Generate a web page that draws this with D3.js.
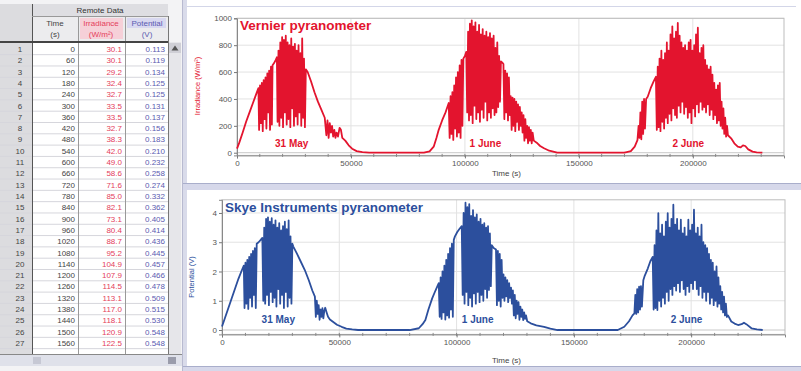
<!DOCTYPE html>
<html>
<head>
<meta charset="utf-8">
<script src="https://cdn.jsdelivr.net/npm/d3@7"></script>
<style>
  html, body { margin: 0; padding: 0; background: #fff; }
  svg { display: block; font-family: 'Liberation Sans', Arial, sans-serif; }
</style>
</head>
<body>
<svg id="chart" width="801" height="371"></svg>
<script>
// ---- table (Remote Data) ----
const tableTime = [0, 60, 120, 180, 240, 300, 360, 420, 480, 540, 600, 660, 720, 780, 840, 900, 960, 1020, 1080, 1140, 1200, 1260, 1320, 1380, 1440, 1500, 1560];
const tableIrradiance = [30.1, 30.1, 29.2, 32.4, 32.7, 33.5, 33.5, 32.7, 38.3, 42.0, 49.0, 58.6, 71.6, 85.0, 82.1, 73.1, 80.4, 88.7, 95.2, 104.9, 107.9, 114.5, 113.1, 117.0, 118.1, 120.9, 122.5];
const tablePotential = [0.113, 0.119, 0.134, 0.125, 0.125, 0.131, 0.137, 0.156, 0.183, 0.210, 0.232, 0.258, 0.274, 0.332, 0.362, 0.405, 0.414, 0.436, 0.445, 0.457, 0.466, 0.478, 0.509, 0.515, 0.530, 0.548, 0.548];

// ---- axes ----
const timeTicks = [0, 50000, 100000, 150000, 200000];
const irradianceTicks = [0, 200, 400, 600, 800, 1000];
const potentialTicks = [0, 1, 2, 3, 4];
const dayLabels = ['31 May', '1 June', '2 June'];
const dayLabelTimes = [24000, 109000, 198000];

// ---- Vernier pyranometer, irradiance (W/m²) vs time (s) ----
const vernier31May = [
  [0, 30], [1000, 75], [2500, 150], [4000, 230], [5500, 300], [7000, 370], [8500, 440], [9400, 480],
  [9700, 170], [10100, 500], [10500, 220], [10900, 520], [11300, 160], [11700, 540], [12100, 250], [12500, 560],
  [12900, 180], [13300, 590], [13700, 300], [14100, 610], [14500, 170], [14900, 640], [15300, 210], [15600, 650],
  [16200, 665], [17000, 690], [17500, 710],
  [17800, 230], [18200, 760], [18600, 200], [19000, 820], [19400, 260], [19800, 860], [20200, 190], [20600, 840],
  [21000, 300], [21400, 870], [21800, 210], [22200, 820], [22600, 250], [23000, 800], [23400, 190], [23800, 850],
  [24200, 330], [24600, 790], [25000, 200], [25400, 810], [25800, 270], [26200, 760], [26600, 210], [27000, 800],
  [27400, 300], [27800, 740], [28200, 200], [28600, 850], [29000, 260], [29400, 700], [29800, 190], [30200, 620],
  [31000, 600], [32500, 530], [34000, 450], [35500, 380], [37000, 320], [38500, 260],
  [39200, 130], [39700, 240], [40200, 110], [40700, 220], [41200, 150], [41700, 200], [42200, 120], [42700, 170],
  [43200, 110], [43700, 150], [44300, 120], [45000, 185], [45600, 170], [46200, 110],
  [47500, 90], [49000, 55], [50500, 30], [52500, 12], [55000, 4], [58000, 0], [65000, 0]
];
const vernier1June = [
  [75000, 0], [82000, 0], [84500, 10], [86300, 45], [87500, 110], [88500, 170], [90000, 240], [91500, 300], [92900, 370],
  [93300, 110], [93700, 420], [94100, 140], [94500, 450], [94900, 95], [95300, 500], [95700, 180], [96100, 560],
  [96500, 120], [96900, 600], [97300, 150], [97700, 650], [98100, 110], [98500, 690], [98900, 200], [99300, 700],
  [100000, 720], [100600, 750],
  [101000, 300], [101400, 900], [101800, 240], [102200, 960], [102600, 280], [103000, 985], [103400, 220], [103800, 940],
  [104200, 350], [104600, 970], [105000, 250], [105400, 900], [105800, 300], [106200, 950], [106600, 230], [107000, 880],
  [107400, 320], [107800, 920], [108200, 260], [108600, 870], [109000, 380], [109400, 900], [109800, 240], [110200, 860],
  [110600, 300], [111000, 890], [111400, 260], [111800, 850], [112200, 330], [112600, 870], [113000, 280], [113400, 780],
  [113800, 300], [114200, 820], [114600, 340], [115000, 720], [115400, 380], [115800, 680],
  [116400, 670], [116900, 660],
  [117300, 250], [117700, 610], [118100, 300], [118500, 590], [118900, 240], [119300, 560], [119700, 280], [120100, 420],
  [120500, 170], [120900, 410], [121300, 200], [121700, 400], [122100, 160], [122500, 380], [122900, 230], [123300, 360],
  [123700, 170], [124100, 340], [124500, 200], [124900, 300], [125300, 150], [125700, 280],
  [126100, 90], [126500, 250], [126900, 110], [127300, 200], [127700, 70], [128100, 190], [128500, 90], [128900, 170],
  [129300, 70], [129700, 150], [130200, 90],
  [131800, 70], [133000, 50], [134700, 33], [137000, 15], [140500, 0], [155000, 0]
];
const vernier2June = [
  [165000, 0], [169900, 0], [171000, 5], [172800, 12], [174500, 45], [175700, 94],
  [176200, 200], [176600, 110], [177000, 300], [177400, 100], [177800, 380], [178200, 140], [178600, 400], [179000, 180],
  [179500, 400], [180200, 416], [181500, 480], [182800, 530], [183800, 565],
  [184200, 170], [184600, 640], [185000, 190], [185400, 700], [185800, 160], [186200, 760], [186600, 230], [187000, 690],
  [187400, 180], [187800, 740], [188200, 260], [188600, 820], [189000, 220], [189400, 760], [189800, 290], [190200, 880],
  [190600, 240], [191000, 940], [191400, 330], [191800, 850], [192200, 280], [192600, 900], [193000, 260], [193400, 965],
  [193800, 350], [194200, 870], [194600, 300], [195000, 820], [195400, 380], [195800, 780], [196200, 290], [196600, 800],
  [197000, 340], [197400, 760], [197800, 260], [198200, 820], [198600, 300], [199000, 840], [199400, 220], [199800, 760],
  [200200, 330], [200600, 800], [201000, 270], [201400, 880], [201800, 360], [202200, 930], [202600, 300], [203000, 740],
  [203400, 380], [203800, 780], [204200, 320], [204600, 800], [205000, 340], [205400, 690], [205800, 300], [206200, 650],
  [206600, 360], [207000, 620], [207400, 280], [207800, 640], [208200, 320], [208600, 580], [209000, 250], [209400, 520],
  [209800, 280], [210200, 470], [210600, 220], [211000, 500], [211400, 240], [211800, 520], [212200, 200], [212600, 380],
  [213000, 180], [213400, 330], [213800, 140], [214200, 260], [214600, 120], [215000, 200], [215400, 130],
  [216800, 107], [218200, 70], [219700, 45], [221000, 40], [222000, 55], [223000, 50], [224300, 25], [226200, 8],
  [228000, 3], [230500, 0]
];

// ---- Skye Instruments pyranometer, potential (V) vs time (s) ----
const skye31May = [
  [0, 0.12], [1000, 0.35], [2500, 0.7], [4000, 1.05], [5500, 1.4], [7000, 1.75], [8500, 2.05], [9300, 2.2],
  [9600, 0.75], [10000, 2.3], [10400, 0.9], [10800, 2.4], [11200, 0.72], [11600, 2.5], [12000, 1.1], [12400, 2.6],
  [12800, 0.8], [13200, 2.7], [13600, 1.2], [14000, 2.8], [14400, 0.75], [14800, 2.95],
  [15600, 3.0], [16500, 3.08], [17200, 3.15],
  [17600, 1.0], [18000, 3.5], [18400, 0.9], [18800, 3.8], [19200, 1.2], [19600, 3.85], [20000, 0.85], [20400, 3.7],
  [20800, 1.3], [21200, 3.82], [21600, 0.95], [22000, 3.6], [22400, 1.1], [22800, 3.75], [23200, 0.8], [23600, 3.5],
  [24000, 1.4], [24400, 3.65], [24800, 0.9], [25200, 3.4], [25600, 1.2], [26000, 3.55], [26400, 0.75], [26800, 3.7],
  [27200, 1.3], [27600, 3.45], [28000, 0.8], [28400, 3.75], [28800, 1.1], [29200, 3.2], [29600, 0.9], [30000, 2.95],
  [30400, 2.85], [32000, 2.6], [33500, 2.35], [35300, 2.05], [37000, 1.7], [38500, 1.35], [39600, 1.14],
  [40000, 0.45], [40400, 1.0], [40800, 0.55], [41200, 0.85], [41600, 0.35], [42000, 0.7], [42400, 0.45], [42800, 0.75],
  [43200, 0.4], [43600, 0.65], [44000, 0.76], [44600, 0.6], [45200, 0.45], [46000, 0.36],
  [47000, 0.3], [49000, 0.18], [51000, 0.11], [53000, 0.05], [55500, 0.02], [58000, 0], [65000, 0]
];
const skye1June = [
  [75000, 0], [80000, 0], [83900, 0.06], [85500, 0.2], [86700, 0.34], [88000, 0.7], [89600, 1.08], [91000, 1.35], [92400, 1.6],
  [92800, 0.45], [93200, 1.8], [93600, 0.38], [94000, 2.0], [94400, 0.6], [94800, 2.2], [95200, 0.36], [95600, 2.4],
  [96000, 0.5], [96400, 2.6], [96800, 0.42], [97200, 2.8], [97600, 0.7], [98000, 2.95], [98400, 0.45], [98800, 3.08],
  [99300, 3.2], [100300, 3.35], [101200, 3.45], [102200, 3.55],
  [102600, 1.2], [103000, 4.0], [103400, 0.9], [103800, 4.35], [104200, 1.3], [104600, 4.2], [105000, 0.85], [105400, 4.3],
  [105800, 1.1], [106200, 3.9], [106600, 0.8], [107000, 4.1], [107400, 1.25], [107800, 3.85], [108200, 0.9], [108600, 3.95],
  [109000, 1.3], [109400, 3.7], [109800, 0.95], [110200, 3.8], [110600, 1.2], [111000, 3.6], [111400, 1.0], [111800, 3.65],
  [112200, 1.4], [112600, 3.5], [113000, 1.1], [113400, 3.55], [113800, 1.37], [114200, 3.3], [114600, 1.5], [115000, 2.9],
  [115800, 2.8], [116800, 2.75],
  [117200, 0.85], [117600, 2.7], [118000, 1.0], [118400, 2.6], [118800, 0.8], [119200, 2.4], [119600, 1.1], [120000, 1.9],
  [120400, 1.0], [120800, 1.8], [121200, 1.15], [121600, 1.7], [122000, 0.95], [122400, 1.6], [122800, 1.1], [123200, 1.45],
  [123600, 0.9], [124000, 1.35],
  [124400, 0.5], [124800, 1.2], [125200, 0.4], [125600, 1.0], [126000, 0.55], [126400, 0.95], [126800, 0.35], [127200, 0.8],
  [127600, 0.45], [128000, 0.7], [128400, 0.34], [128800, 0.6], [129200, 0.38], [129600, 0.5], [130100, 0.3],
  [131600, 0.23], [134000, 0.16], [137300, 0.11], [140000, 0.05], [143000, 0], [155000, 0]
];
const skye2June = [
  [165000, 0], [168700, 0], [171500, 0.11], [173500, 0.3], [175000, 0.5], [175800, 0.57],
  [176200, 1.2], [176600, 0.55], [177000, 1.4], [177400, 0.6], [177800, 1.48], [178200, 0.7], [178600, 1.5], [179000, 0.8],
  [179600, 1.7], [180100, 1.83], [181500, 2.1], [182600, 2.35], [183600, 2.5],
  [184000, 0.7], [184400, 2.9], [184800, 0.75], [185200, 3.4], [185600, 0.68], [186000, 3.99], [186400, 1.0], [186800, 3.3],
  [187200, 0.8], [187600, 3.6], [188000, 1.1], [188400, 3.2], [188800, 0.9], [189200, 3.7], [189600, 1.3], [190000, 3.99],
  [190400, 1.0], [190800, 3.5], [191200, 1.4], [191600, 3.8], [192000, 1.2], [192400, 4.28], [192800, 1.5], [193200, 3.6],
  [193600, 1.35], [194000, 3.8], [194400, 1.6], [194800, 3.4], [195200, 1.3], [195600, 3.77], [196000, 1.7], [196400, 3.3],
  [196800, 1.4], [197200, 3.5], [197600, 1.2], [198000, 3.2], [198400, 1.5], [198800, 3.77], [199200, 1.3], [199600, 3.4],
  [200000, 1.6], [200400, 3.6], [200800, 1.4], [201200, 4.11], [201600, 1.7], [202000, 3.3], [202400, 1.4], [202800, 3.5],
  [203200, 1.2], [203600, 3.2], [204000, 1.5], [204400, 3.6], [204800, 1.1], [205200, 3.0], [205600, 1.3], [206000, 2.9],
  [206400, 1.0], [206800, 2.8], [207200, 1.3], [207600, 2.6], [208000, 0.9], [208400, 2.4], [208800, 1.1], [209200, 2.3],
  [209600, 0.85], [210000, 2.0], [210400, 1.0], [210800, 2.17], [211200, 0.8], [211600, 1.8], [212000, 0.9], [212400, 1.5],
  [212800, 0.7], [213200, 1.3], [213600, 0.6], [214000, 1.14], [214400, 0.5], [214800, 0.9], [215200, 0.45], [215700, 0.5],
  [217100, 0.29], [218500, 0.22], [220000, 0.17], [221500, 0.2], [222500, 0.25], [223500, 0.2], [225700, 0.06],
  [228000, 0.02], [230500, 0]
];

const VERNIER_RED = '#e3142e';
const SKYE_BLUE = '#2c4f9d';
const GRID = '#e2e2e2';
const FRAME = '#bdbdbd';
const AXIS_TEXT = '#555';

const svg = d3.select('#chart');

drawPanels();
drawTable();

drawGraph({
  series: [...vernier31May, ...vernier1June, ...vernier2June],
  color: VERNIER_RED,
  x0: 237, x1: 784,
  yDomain: [-20, 1000], yRange: [155.4, 18.3],
  yTicks: irradianceTicks,
  title: 'Vernier pyranometer', titleX: 240, titleY: 29.5,
  yLabel: 'Irradiance (W/m²)', yLabelX: 200, yLabelY: 86,
  timeLabelY: 176,
  dayLabelY: 147
});

drawGraph({
  series: [...skye31May, ...skye1June, ...skye2June],
  color: SKYE_BLUE,
  x0: 222, x1: 785,
  yDomain: [-0.15, 4.45], yRange: [334.4, 199.8],
  yTicks: potentialTicks,
  title: 'Skye Instruments pyranometer', titleX: 225, titleY: 212,
  yLabel: 'Potential (V)', yLabelX: 194, yLabelY: 277,
  timeLabelY: 363,
  dayLabelY: 323
});

function drawPanels() {
  // lavender window chrome round the two graph panes
  svg.append('rect').attr('x', 183).attr('y', 0).attr('width', 4).attr('height', 371).attr('fill', '#d9dbea');
  svg.append('line').attr('x1', 187).attr('x2', 796).attr('y1', 6.5).attr('y2', 6.5)
    .attr('stroke', '#d3d6e8').attr('stroke-width', 1);
  svg.append('rect').attr('x', 183).attr('y', 183).attr('width', 618).attr('height', 7).attr('fill', '#d6d8ea');
  svg.append('line').attr('x1', 183).attr('x2', 801).attr('y1', 183.5).attr('y2', 183.5)
    .attr('stroke', '#a9aecb').attr('stroke-width', 1);
  svg.append('rect').attr('x', 183).attr('y', 366).attr('width', 618).attr('height', 5).attr('fill', '#d6d8ea');
  svg.append('line').attr('x1', 183).attr('x2', 801).attr('y1', 366.5).attr('y2', 366.5)
    .attr('stroke', '#a9aecb').attr('stroke-width', 1);
}

function drawGraph(o) {
  const x = d3.scaleLinear().domain([0, 240000]).range([o.x0, o.x1]);
  const y = d3.scaleLinear().domain(o.yDomain).range(o.yRange);
  const g = svg.append('g');
  const top = o.yRange[1];
  const bottom = o.yRange[0];

  // grid
  g.append('g')
    .selectAll('line')
    .data(timeTicks.slice(1))
    .join('line')
    .attr('x1', (d) => x(d)).attr('x2', (d) => x(d))
    .attr('y1', top).attr('y2', bottom)
    .attr('stroke', GRID);
  g.append('g')
    .selectAll('line')
    .data(o.yTicks.slice(1))
    .join('line')
    .attr('x1', o.x0).attr('x2', o.x1)
    .attr('y1', (d) => y(d)).attr('y2', (d) => y(d))
    .attr('stroke', GRID);
  g.append('line')
    .attr('x1', o.x0).attr('x2', o.x1)
    .attr('y1', y(0)).attr('y2', y(0))
    .attr('stroke', '#c8c8c8');

  // frame
  g.append('rect')
    .attr('x', o.x0).attr('y', top)
    .attr('width', o.x1 - o.x0).attr('height', bottom - top)
    .attr('fill', 'none').attr('stroke', FRAME);

  // minor time ticks
  g.append('g')
    .selectAll('line')
    .data(d3.range(10000, 240000, 10000))
    .join('line')
    .attr('x1', (d) => x(d)).attr('x2', (d) => x(d))
    .attr('y1', bottom - 1.5).attr('y2', bottom + 1.5)
    .attr('stroke', '#888');

  const xAxis = g.append('g')
    .attr('transform', `translate(0,${bottom})`)
    .call(d3.axisBottom(x).tickValues(timeTicks).tickSize(3).tickPadding(2).tickFormat(d3.format('d')));
  xAxis.select('.domain').attr('stroke', '#888');
  xAxis.selectAll('.tick line').attr('stroke', '#777');
  xAxis.selectAll('.tick text').attr('fill', AXIS_TEXT).attr('font-size', 8)
    .attr('font-family', 'Liberation Sans, Arial, sans-serif');

  const yAxis = g.append('g')
    .attr('transform', `translate(${o.x0},0)`)
    .call(d3.axisLeft(y).tickValues(o.yTicks).tickSize(3).tickPadding(2).tickFormat(d3.format('d')));
  yAxis.select('.domain').attr('stroke', '#888');
  yAxis.selectAll('.tick line').attr('stroke', '#777');
  yAxis.selectAll('.tick text').attr('fill', AXIS_TEXT).attr('font-size', 8)
    .attr('font-family', 'Liberation Sans, Arial, sans-serif');

  // data
  const line = d3.line().x((d) => x(d[0])).y((d) => y(d[1]));
  g.append('path')
    .datum(o.series)
    .attr('d', line)
    .attr('fill', 'none')
    .attr('stroke', o.color)
    .attr('stroke-width', 1.8)
    .attr('stroke-linejoin', 'round');

  // labels
  g.append('text')
    .attr('x', o.titleX).attr('y', o.titleY)
    .attr('fill', o.color)
    .attr('font-size', 13.5)
    .attr('font-weight', 700)
    .text(o.title);

  g.selectAll('.day-label')
    .data(dayLabels)
    .join('text')
    .attr('class', 'day-label')
    .attr('x', (d, i) => x(dayLabelTimes[i]))
    .attr('y', o.dayLabelY)
    .attr('text-anchor', 'middle')
    .attr('fill', o.color)
    .attr('font-size', 10)
    .attr('font-weight', 700)
    .text((d) => d);

  g.append('text')
    .attr('transform', `translate(${o.yLabelX},${o.yLabelY}) rotate(-90)`)
    .attr('text-anchor', 'middle')
    .attr('fill', o.color)
    .attr('font-size', 7.5)
    .text(o.yLabel);

  g.append('text')
    .attr('x', 492).attr('y', o.timeLabelY)
    .attr('fill', '#444')
    .attr('font-size', 8)
    .text('Time (s)');
}

function drawTable() {
  const g = svg.append('g').attr('font-size', 8);
  const rowY = d3.scaleLinear().domain([1, 27]).range([49, 343]);
  const halfRow = (rowY(2) - rowY(1)) / 2;

  // backgrounds
  g.append('rect').attr('x', 0).attr('y', 0).attr('width', 183).attr('height', 371).attr('fill', '#f3f3f5');
  g.append('rect').attr('x', 32).attr('y', 42).attr('width', 136).attr('height', 312).attr('fill', '#fff');
  g.append('rect').attr('x', 0).attr('y', 4).attr('width', 32).attr('height', 350).attr('fill', '#dcdcdf');
  g.append('rect').attr('x', 32).attr('y', 4).attr('width', 136).attr('height', 38).attr('fill', '#ececee');
  g.append('rect').attr('x', 32).attr('y', 4).attr('width', 136).attr('height', 12).attr('fill', '#dedee2');
  g.append('rect').attr('x', 80).attr('y', 18).attr('width', 43).attr('height', 21).attr('fill', '#f6d0d8');
  g.append('rect').attr('x', 127).attr('y', 18).attr('width', 39).attr('height', 10).attr('fill', '#d8d8f0');

  // header text
  g.append('text').attr('x', 100).attr('y', 13).attr('text-anchor', 'middle').attr('fill', '#333').text('Remote Data');
  const headers = [
    { cx: 55, top: 'Time', bottom: '(s)', color: '#444' },
    { cx: 101, top: 'Irradiance', bottom: '(W/m²)', color: '#e4405c' },
    { cx: 147, top: 'Potential', bottom: '(V)', color: '#5a5ab0' }
  ];
  headers.forEach((h) => {
    g.append('text').attr('x', h.cx).attr('y', 26).attr('text-anchor', 'middle').attr('fill', h.color).text(h.top);
    g.append('text').attr('x', h.cx).attr('y', 37).attr('text-anchor', 'middle').attr('fill', h.color).text(h.bottom);
  });

  // row lines
  const rows = d3.range(1, tableTime.length + 1);
  g.append('g')
    .selectAll('line')
    .data(rows)
    .join('line')
    .attr('x1', 0).attr('x2', 168)
    .attr('y1', (d) => rowY(d) + halfRow).attr('y2', (d) => rowY(d) + halfRow)
    .attr('stroke', '#d6d6dc');

  // column lines
  [[32, '#555'], [78, '#999'], [125, '#999'], [168, '#777']].forEach(([cx, c]) => {
    g.append('line').attr('x1', cx + 0.5).attr('x2', cx + 0.5).attr('y1', cx === 32 ? 4 : 16).attr('y2', 354)
      .attr('stroke', c);
  });
  g.append('line').attr('x1', 32).attr('x2', 168).attr('y1', 16.5).attr('y2', 16.5).attr('stroke', '#999');
  g.append('line').attr('x1', 0).attr('x2', 168).attr('y1', 42).attr('y2', 42).attr('stroke', '#444').attr('stroke-width', 2);

  // cells
  g.append('g').selectAll('text').data(rows).join('text')
    .attr('x', 20).attr('y', (d) => rowY(d) + 3)
    .attr('text-anchor', 'middle').attr('fill', '#444').text((d) => d);
  g.append('g').selectAll('text').data(tableTime).join('text')
    .attr('x', 75).attr('y', (d, i) => rowY(i + 1) + 3)
    .attr('text-anchor', 'end').attr('fill', '#444').text((d) => d);
  g.append('g').selectAll('text').data(tableIrradiance).join('text')
    .attr('x', 122).attr('y', (d, i) => rowY(i + 1) + 3)
    .attr('text-anchor', 'end').attr('fill', '#e4405c').text((d) => d3.format('.1f')(d));
  g.append('g').selectAll('text').data(tablePotential).join('text')
    .attr('x', 165).attr('y', (d, i) => rowY(i + 1) + 3)
    .attr('text-anchor', 'end').attr('fill', '#5a5ab0').text((d) => d3.format('.3f')(d));

  // scroll bars
  g.append('rect').attr('x', 169).attr('y', 42).attr('width', 12).attr('height', 312).attr('fill', '#e6e6ea');
  g.append('rect').attr('x', 169).attr('y', 43).attr('width', 12).attr('height', 10).attr('fill', '#cfcfd6');
  g.append('path').attr('d', 'M171.5,50.5 L175,45.5 L178.5,50.5 Z').attr('fill', '#555');
  g.append('rect').attr('x', 0).attr('y', 354).attr('width', 183).attr('height', 12).attr('fill', '#dfe1ea');
  g.append('line').attr('x1', 0).attr('x2', 183).attr('y1', 354.5).attr('y2', 354.5).attr('stroke', '#888');
  g.append('rect').attr('x', 33).attr('y', 357).attr('width', 8).attr('height', 7).attr('fill', '#c6c8d4');
  g.append('rect').attr('x', 168).attr('y', 357).attr('width', 8).attr('height', 7).attr('fill', '#9a9cab');
  g.append('line').attr('x1', 182.5).attr('x2', 182.5).attr('y1', 0).attr('y2', 371).attr('stroke', '#b8bad0');
}
</script>
</body>
</html>
